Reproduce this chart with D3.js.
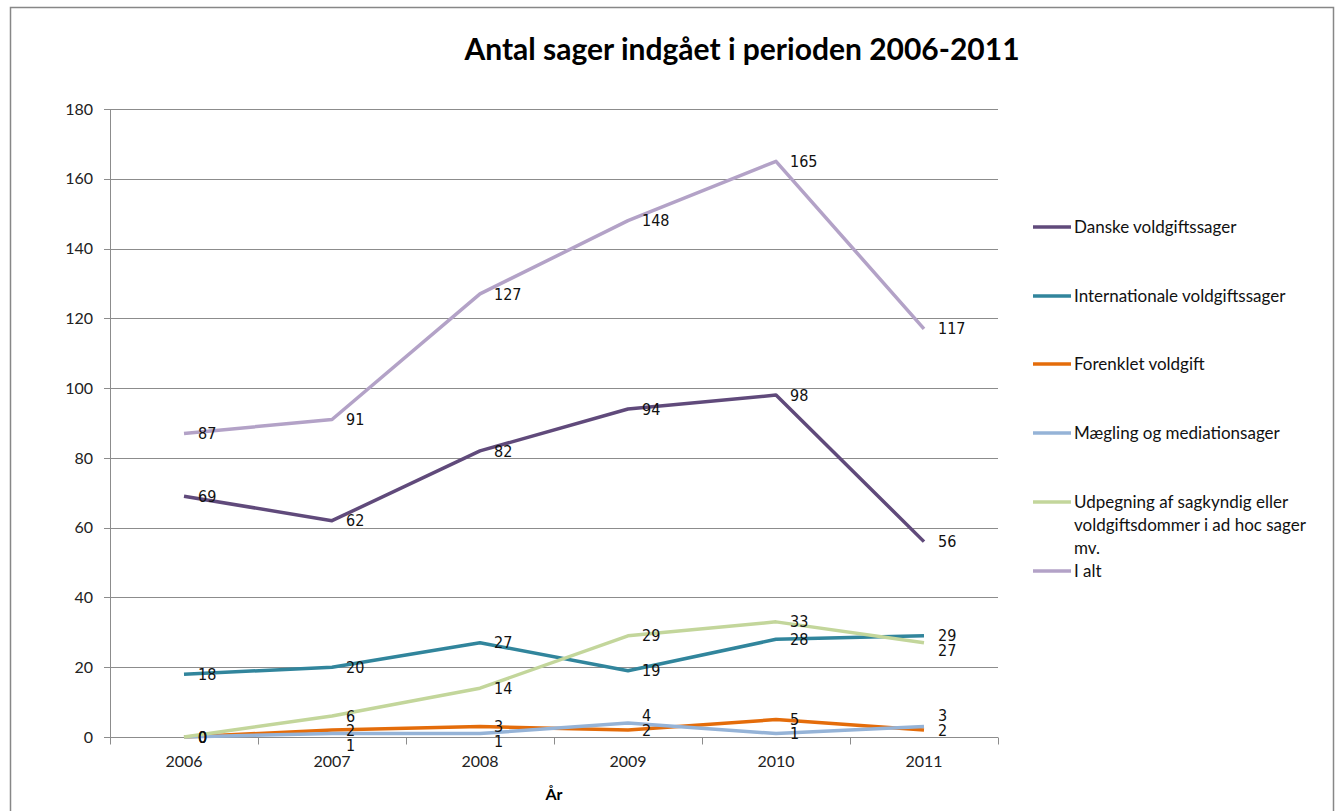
<!DOCTYPE html>
<html>
<head>
<meta charset="utf-8">
<script src="https://cdn.jsdelivr.net/npm/d3@7"></script>
<style>
    body { margin: 0; background: #fff; }
    svg { display: block; }
</style>
</head>
<body>
<div id="wrapper"></div>
<script>
const years = ["2006", "2007", "2008", "2009", "2010", "2011"];
const seriesNames = [
    "Danske voldgiftssager",
    "Internationale voldgiftssager",
    "Forenklet voldgift",
    "Mægling og mediationsager",
    "Udpegning af sagkyndig eller voldgiftsdommer i ad hoc sager mv.",
    "I alt"
];
const danske = [69, 62, 82, 94, 98, 56];
const internationale = [18, 20, 27, 19, 28, 29];
const forenklet = [0, 2, 3, 2, 5, 2];
const maegling = [0, 1, 1, 4, 1, 3];
const udpegning = [0, 6, 14, 29, 33, 27];
const iAlt = [87, 91, 127, 148, 165, 117];
const yTicks = [0, 20, 40, 60, 80, 100, 120, 140, 160, 180];
const colors = ["#604a7b", "#31859c", "#e46c0a", "#95b3d7", "#c3d69b", "#b3a2c7"];

// legend text broken into lines like the original
const legendLines = [
    ["Danske voldgiftssager"],
    ["Internationale voldgiftssager"],
    ["Forenklet voldgift"],
    ["Mægling og mediationsager"],
    ["Udpegning af sagkyndig eller", "voldgiftsdommer i ad hoc sager", "mv."],
    ["I alt"]
];

function buildPlot() {
    const allValues = [danske, internationale, forenklet, maegling, udpegning, iAlt];
    const series = seriesNames.map((name, i) => ({
        name: name,
        color: colors[i],
        lines: legendLines[i],
        values: allValues[i].map((v, j) => ({year: years[j], value: v}))
    }));

    const dimension = {
        width: 1338,
        height: 811,
        margin: {top: 109, left: 110, bottom: 74, right: 340}
    };
    dimension.boundedWidth = dimension.width - dimension.margin.left - dimension.margin.right;
    dimension.boundedHeight = dimension.height - dimension.margin.top - dimension.margin.bottom;

    const svg = d3.select("#wrapper").append("svg")
        .attr("width", dimension.width)
        .attr("height", dimension.height)
        .style("font-family", "Lato, 'Open Sans', sans-serif");

    // outer chart border
    svg.append("rect")
        .attr("x", 10.5).attr("y", 7.5)
        .attr("width", 1323).attr("height", 820)
        .attr("fill", "none")
        .attr("stroke", "#878787")
        .attr("stroke-width", 1.5);

    svg.append("text")
        .attr("x", 742).attr("y", 60)
        .attr("text-anchor", "middle")
        .style("font-size", "30px")
        .style("font-weight", "bold")
        .text("Antal sager indgået i perioden 2006-2011");

    const bounded = svg.append("g")
        .attr("transform", `translate(${dimension.margin.left},${dimension.margin.top})`);

    const xScaler = d3.scaleBand()
        .domain(years)
        .range([0, dimension.boundedWidth]);

    const yScaler = d3.scaleLinear()
        .domain([0, 180])
        .range([dimension.boundedHeight, 0]);

    // gridlines
    bounded.append("g")
        .selectAll("line")
        .data(yTicks)
        .join("line")
        .attr("x1", -6)
        .attr("x2", dimension.boundedWidth)
        .attr("y1", d => Math.round(yScaler(d)) + 0.5)
        .attr("y2", d => Math.round(yScaler(d)) + 0.5)
        .attr("stroke", "#8c8c8c")
        .attr("stroke-width", 1);

    const yAxis = d3.axisLeft(yScaler).tickValues(yTicks).tickSize(0).tickPadding(17);
    const yAxisG = bounded.append("g").call(yAxis);
    yAxisG.select(".domain").attr("stroke", "#8c8c8c");
    yAxisG.selectAll("text").style("font-size", "16px").style("font-family", "Lato, sans-serif").attr("fill", "#222");

    // x axis with ticks at category boundaries
    const xAxisG = bounded.append("g")
        .attr("transform", `translate(0,${Math.round(dimension.boundedHeight) + 0.5})`);
    xAxisG.append("line")
        .attr("x1", 0).attr("x2", dimension.boundedWidth)
        .attr("stroke", "#8c8c8c");
    xAxisG.selectAll(".tick")
        .data(years.concat(["end"]))
        .join("line")
        .attr("class", "tick")
        .attr("x1", (d, i) => Math.round(i * xScaler.step()) + 0.5)
        .attr("x2", (d, i) => Math.round(i * xScaler.step()) + 0.5)
        .attr("y1", 0).attr("y2", 7)
        .attr("stroke", "#8c8c8c");
    xAxisG.selectAll(".ylab")
        .data(years)
        .join("text")
        .attr("x", d => xScaler(d) + xScaler.bandwidth() / 2)
        .attr("y", 29)
        .attr("text-anchor", "middle")
        .style("font-size", "16px")
        .attr("fill", "#222")
        .text(d => d);

    svg.append("text")
        .attr("x", dimension.margin.left + dimension.boundedWidth / 2)
        .attr("y", 800)
        .attr("text-anchor", "middle")
        .style("font-size", "16px")
        .style("font-weight", "bold")
        .text("År");

    const lineGenerator = d3.line()
        .x(d => xScaler(d.year) + xScaler.bandwidth() / 2)
        .y(d => yScaler(d.value));

    bounded.selectAll(".series")
        .data(series)
        .join("path")
        .attr("class", "series")
        .attr("d", d => lineGenerator(d.values))
        .attr("fill", "none")
        .attr("stroke", d => d.color)
        .attr("stroke-width", 3.5)
        .attr("stroke-linejoin", "round");

    // data labels right of each point; a later series' label steps away
    // from an earlier one at the same year when they would collide
    const labels = [];
    series.forEach(s => s.values.forEach(v => {
        const lab = {
            year: v.year, value: v.value,
            x: xScaler(v.year) + xScaler.bandwidth() / 2 + 14,
            y: yScaler(v.value)
        };
        labels.filter(l => l.year === v.year && l.value !== v.value).forEach(l => {
            if (Math.abs(lab.y - l.y) < 13) {
                lab.y = lab.y > l.y ? l.y + 15 : l.y - 15;
            }
        });
        labels.push(lab);
    }));

    bounded.append("g")
        .selectAll("text")
        .data(labels)
        .join("text")
        .attr("x", d => d.x)
        .attr("y", d => d.y)
        .attr("dy", "0.35em")
        .style("font-family", "'Liberation Sans Narrow', 'DejaVu Sans Condensed', sans-serif")
        .style("font-size", "16px")
        .attr("fill", "#111")
        .text(d => d.value);

    // legend
    const legend = svg.append("g")
        .attr("transform", "translate(1033,0)");
    const legendY = [227, 296, 364, 433, 502, 571];
    const item = legend.selectAll(".item")
        .data(series)
        .join("g")
        .attr("class", "item")
        .attr("transform", (d, i) => `translate(0,${legendY[i]})`);
    item.append("line")
        .attr("x1", 0).attr("x2", 38)
        .attr("stroke", d => d.color)
        .attr("stroke-width", 3.5);
    item.append("text")
        .style("font-size", "17px")
        .attr("fill", "#111")
        .selectAll("tspan")
        .data(d => d.lines)
        .join("tspan")
        .attr("x", 41)
        .attr("y", (d, i) => i * 23)
        .attr("dy", "0.35em")
        .text(d => d);
}

buildPlot();
</script>
</body>
</html>
